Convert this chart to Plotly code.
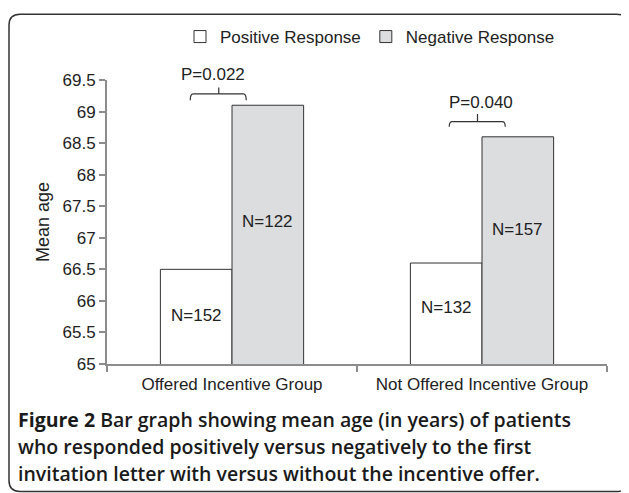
import plotly.graph_objects as go

# ---- data ----
groups = ["Offered Incentive Group", "Not Offered Incentive Group"]
positive_mean = [66.5, 66.6]
negative_mean = [69.1, 68.6]
positive_n = ["N=152", "N=132"]
negative_n = ["N=122", "N=157"]
p_values = ["P=0.022", "P=0.040"]
y_ticks = [65, 65.5, 66, 66.5, 67, 67.5, 68, 68.5, 69, 69.5]
y_tick_text = ["65", "65.5", "66", "66.5", "67", "67.5", "68", "68.5", "69", "69.5"]
caption_lines = [
    "<b>Figure 2</b> Bar graph showing mean age (in years) of patients",
    "who responded positively versus negatively to the first",
    "invitation letter with versus without the incentive offer.",
]

# ---- layout constants ----
OFF = 8  # default page body margin
W, H = 629 - OFF, 493 - OFF
ML, MR, MT, MB = 107 - OFF, 22, 79 - OFF, 129
PW, PH = W - ML - MR, H - MT - MB
FONT = "Liberation Sans, Arial, sans-serif"
TXT = "#222222"
AXC = "#8c8c8c"
FS = 17
BARGAP = 0.427
half = (1 - BARGAP) / 4  # center offset of each bar inside its group
Y0R, Y1R = 65, 69.5


def px(x):  # screen x -> paper
    return (x - OFF - ML) / PW


def py(y):  # screen y -> paper
    return 1 - (y - OFF - MT) / PH


def dy(v):  # data y -> paper
    return (v - Y0R) / (Y1R - Y0R)


fig = go.Figure()
fig.add_trace(go.Bar(
    x=groups, y=positive_mean, name="Positive Response",
    marker=dict(color="white", line=dict(color="#333333", width=1)),
))
fig.add_trace(go.Bar(
    x=groups, y=negative_mean, name="Negative Response",
    marker=dict(color="#dcdddf", line=dict(color="#333333", width=1)),
))

# N labels inside bars
pos_label_y = [65.77, 65.90]
neg_label_y = [67.26, 67.13]
for i in range(len(groups)):
    fig.add_annotation(x=i - half, y=pos_label_y[i], xref="x", yref="y",
                       yanchor="middle", text=positive_n[i], showarrow=False,
                       font=dict(size=FS, color=TXT, family=FONT))
    fig.add_annotation(x=i + half, y=neg_label_y[i], xref="x", yref="y",
                       yanchor="middle", text=negative_n[i], showarrow=False,
                       font=dict(size=FS, color=TXT, family=FONT))

# significance brackets
brackets = [
    dict(l=-0.167, r=0.057, c=-0.053, yl=69.28, ye=69.18, yt=69.38, ytext=69.59, xt=-0.075),
    dict(l=-0.131, r=0.093, c=-0.018, yl=68.84, ye=68.76, yt=68.96, ytext=69.14, xt=-0.006),
]
for i, b in enumerate(brackets):
    path = (f"M {i + b['l']},{b['ye']} Q {i + b['l']},{b['yl']} {i + b['l'] + 0.012},{b['yl']} "
            f"L {i + b['r'] - 0.012},{b['yl']} Q {i + b['r']},{b['yl']} {i + b['r']},{b['ye']} "
            f"M {i + b['c']},{b['yl']} L {i + b['c']},{b['yt']}")
    fig.add_shape(type="path", path=path, xref="x", yref="y",
                  line=dict(color="#333333", width=1.2))
    fig.add_annotation(x=i + b["xt"], y=dy(b["ytext"]), xref="x", yref="paper",
                       xanchor="center", yanchor="middle",
                       text=p_values[i], showarrow=False,
                       font=dict(size=FS, color=TXT, family=FONT))

# outer rounded frame
x0, x1, y0, y1, r = 9, 627.5, 13, 492, 11
rx, ry = r / PW, r / PH
X0, X1, Y0, Y1 = px(x0), px(x1), py(y0), py(y1)
frame = (f"M {X0 + rx},{Y0} L {X1 - rx},{Y0} Q {X1},{Y0} {X1},{Y0 - ry} "
         f"L {X1},{Y1 + ry} Q {X1},{Y1} {X1 - rx},{Y1} "
         f"L {X0 + rx},{Y1} Q {X0},{Y1} {X0},{Y1 + ry} "
         f"L {X0},{Y0 - ry} Q {X0},{Y0} {X0 + rx},{Y0} Z")
fig.add_shape(type="path", path=frame, xref="paper", yref="paper",
              line=dict(color="#333333", width=1.5), layer="below")

# caption
cap_y = [420, 447, 474]
for line, yy in zip(caption_lines, cap_y):
    fig.add_annotation(x=px(16), y=py(yy), xref="paper", yref="paper",
                       xanchor="left", yanchor="middle", text=line, showarrow=False,
                       font=dict(size=19.5, color="#1a1a1a", family="Open Sans", weight=600))

fig.update_layout(
    width=W, height=H,
    margin=dict(l=ML, r=MR, t=MT, b=MB),
    paper_bgcolor="white", plot_bgcolor="white",
    barmode="group", bargap=BARGAP, bargroupgap=0,
    font=dict(family=FONT, size=FS, color=TXT),
    showlegend=True,
    legend=dict(orientation="h", x=px(180), y=py(37), xanchor="left", yanchor="middle",
                font=dict(size=FS, color=TXT, family=FONT), bgcolor="rgba(0,0,0,0)",
                itemclick=False, itemdoubleclick=False),
)
fig.update_xaxes(
    showline=True, linecolor=AXC, linewidth=2,
    ticks="outside", tickson="boundaries", ticklen=6, tickcolor=AXC, tickwidth=2,
    ticklabelstandoff=4,
    tickfont=dict(size=FS, color=TXT, family=FONT), showgrid=False,
)
fig.update_yaxes(
    range=[Y0R, Y1R], tickvals=y_ticks, ticktext=y_tick_text,
    showline=True, linecolor=AXC, linewidth=2,
    ticks="outside", ticklen=6, tickcolor=AXC, tickwidth=2,
    tickfont=dict(size=FS, color=TXT, family=FONT), showgrid=False, zeroline=False,
    title=dict(text="Mean age", font=dict(size=18, color=TXT, family=FONT), standoff=8),
)

fig.write_html("out.html")
